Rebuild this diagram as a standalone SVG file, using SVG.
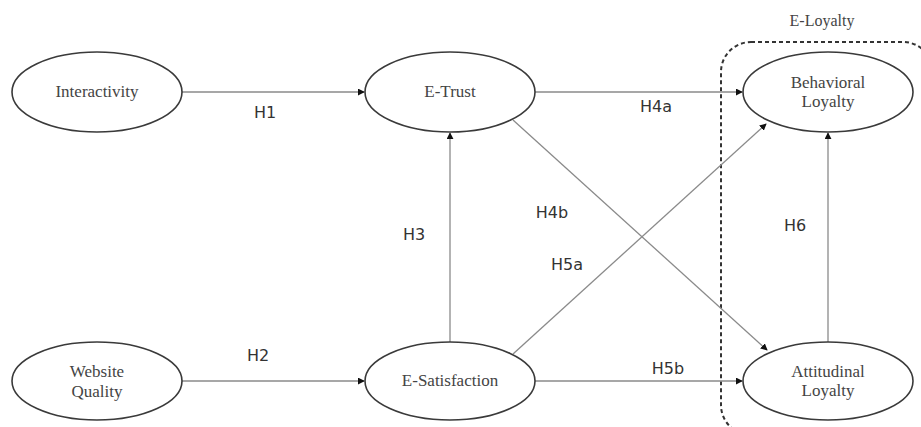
<svg xmlns="http://www.w3.org/2000/svg" width="921" height="427" viewBox="0 0 921 427">
<defs>
<style>
.node ellipse{fill:#fff;stroke:#3a3a3a;stroke-width:1.6}
.node text{font-family:"Liberation Serif","Times New Roman",serif;font-size:17px;fill:#444;text-anchor:middle}
.conn line{stroke:#8a8a8a;stroke-width:1.3}
.lbl{font-family:"DejaVu Sans","Liberation Sans",sans-serif;font-size:16px;fill:#333;text-anchor:middle}
</style>
<marker id="ah" viewBox="0 0 8 8" refX="7" refY="4" markerWidth="7" markerHeight="7" markerUnits="userSpaceOnUse" orient="auto">
<path d="M0,0 L8,4 L0,8 Z" fill="#111"/>
</marker>
</defs>
<rect width="921" height="427" fill="#fff"/>
<g id="eloyalty-group">
<rect x="721" y="42" width="212" height="393" rx="30" ry="30" fill="none" stroke="#333" stroke-width="2" stroke-dasharray="4,3"/>
<text x="822" y="26" font-family="Liberation Serif, serif" font-size="16" fill="#444" text-anchor="middle">E-Loyalty</text>
</g>
<g id="connectors" class="conn">
<line x1="182" y1="92" x2="364" y2="92" marker-end="url(#ah)"/>
<line x1="182" y1="381" x2="364" y2="381" marker-end="url(#ah)"/>
<line x1="535" y1="92" x2="742" y2="92" marker-end="url(#ah)"/>
<line x1="535" y1="381" x2="742" y2="381" marker-end="url(#ah)"/>
<line x1="450" y1="342" x2="450" y2="133" marker-end="url(#ah)"/>
<line x1="828" y1="342" x2="828" y2="133" marker-end="url(#ah)"/>
<line x1="513" y1="120" x2="767" y2="350" marker-end="url(#ah)"/>
<line x1="513" y1="354" x2="766" y2="124" marker-end="url(#ah)"/>
</g>
<g id="labels">
<text class="lbl" x="265" y="118">H1</text>
<text class="lbl" x="258" y="361">H2</text>
<text class="lbl" x="414" y="240">H3</text>
<text class="lbl" x="656" y="112">H4a</text>
<text class="lbl" x="552" y="218">H4b</text>
<text class="lbl" x="567" y="270">H5a</text>
<text class="lbl" x="668" y="374">H5b</text>
<text class="lbl" x="795" y="231">H6</text>
</g>
<g id="interactivity" class="node">
<ellipse cx="97" cy="92" rx="85" ry="40"/>
<text x="97" y="97">Interactivity</text>
</g>
<g id="e-trust" class="node">
<ellipse cx="450" cy="92" rx="85" ry="40"/>
<text x="450" y="97">E-Trust</text>
</g>
<g id="behavioral-loyalty" class="node">
<ellipse cx="828" cy="92" rx="85" ry="40"/>
<text x="828" y="88">Behavioral</text>
<text x="828" y="107">Loyalty</text>
</g>
<g id="website-quality" class="node">
<ellipse cx="97" cy="381" rx="85" ry="39"/>
<text x="97" y="377">Website</text>
<text x="97" y="397">Quality</text>
</g>
<g id="e-satisfaction" class="node">
<ellipse cx="450" cy="381" rx="85" ry="39"/>
<text x="450" y="386">E-Satisfaction</text>
</g>
<g id="attitudinal-loyalty" class="node">
<ellipse cx="828" cy="381" rx="85" ry="39"/>
<text x="828" y="377">Attitudinal</text>
<text x="828" y="396">Loyalty</text>
</g>
</svg>
